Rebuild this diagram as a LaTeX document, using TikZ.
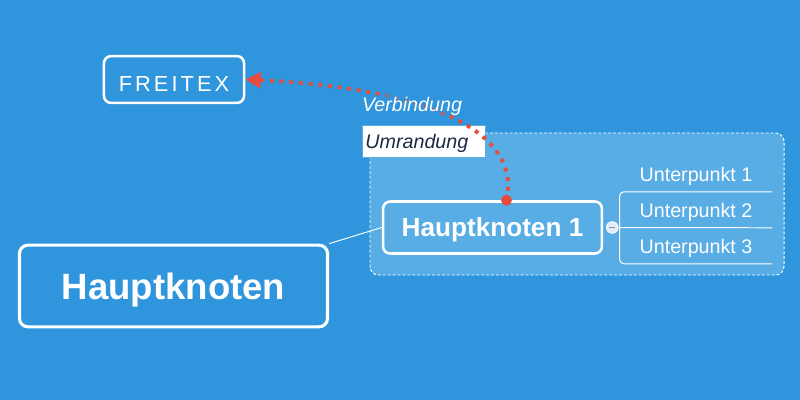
\documentclass[tikz,border=0pt]{standalone}
\usepackage{fontspec}
\setmainfont{Liberation Sans}
\usepackage{tikz}
\usetikzlibrary{calc,arrows.meta}

\definecolor{grund}{HTML}{2F95DC}
\definecolor{rahmen}{HTML}{58ADE5}
\definecolor{verbrot}{HTML}{E84C3D}
\definecolor{dunkel}{HTML}{1D2A44}
\definecolor{knopfgrau}{HTML}{E6ECF3}
\definecolor{strichgrau}{HTML}{7C8FAD}

\begin{document}
\begin{tikzpicture}[x=0.025cm,y=-0.025cm,
		kasten/.style={draw=white,rounded corners=5pt,text=white,inner sep=0pt,text depth=0pt},
		unter/.style={text=white,font=\fontsize{14}{16}\selectfont,minimum width=3.8cm,minimum height=0.85cm,inner sep=0pt,text depth=0pt},
		duenn/.style={white,line width=0.7pt}]
			\fill[grund] (0,0) rectangle (800,400);
			
			% Umrandung
			\draw[white,line width=0.7pt,dash pattern=on 2pt off 1.5pt,fill=rahmen,rounded corners=6pt] (370,133) rectangle (784,275);
			\node[draw=rahmen,fill=white,text=dunkel,font=\itshape\fontsize{14}{16}\selectfont,text width=2.9cm,align=left,inner xsep=0.09cm,minimum height=0.8cm,inner ysep=0pt,text depth=0pt](umr) at (423.5,141) {Umrandung};
			
			\node[kasten,line width=1.8pt,minimum width=3.5cm,minimum height=1.17cm,text height=17.5pt,font=\fontsize{15.5}{18}\selectfont\addfontfeature{LetterSpace=14}](freitext) at (174,79.5) {FREITEX};
			\node[kasten,line width=2.2pt,minimum width=7.7cm,minimum height=2.04cm,rounded corners=6pt,font=\bfseries\fontsize{26}{30}\selectfont](hk) at (173.5,286) {Hauptknoten};
			\node[kasten,line width=1.8pt,minimum width=5.47cm,minimum height=1.3cm,font=\bfseries\fontsize{18.6}{22}\selectfont](hk1) at (492.5,227.5) {Hauptknoten 1};
			\draw[duenn](hk.north east) -- (hk1.west);
			
			\node[unter](u1) at (696,174.5) {Unterpunkt 1};
			\node[unter](u2) at (696,210.5) {Unterpunkt 2};
			\node[unter](u3) at (696,246.5) {Unterpunkt 3};
			\node[circle,draw=white,line width=0.6pt,fill=knopfgrau,inner sep=0pt,minimum size=0.29cm](knopf) at ($(hk1.east)+(9,0)$) {};
			\draw[duenn](knopf) -- (u2.south east);
			\draw[duenn,rounded corners=3pt](u1.south east) -- (u1.south west) -- (u3.south west) -- (u3.south east);
			\draw[strichgrau,line width=0.8pt]($(knopf.center)+(-3,0)$) -- ($(knopf.center)+(3,0)$);
			
			% Verbindung
			\coordinate (anker) at ($(hk1.north)+(14,0)$);
			\draw[verbrot,line width=2.7pt,dash pattern=on 2.7pt off 4.2pt,-{Triangle[length=11pt,width=11pt]}](anker) .. controls (522,130) and (425,88) .. (freitext.east);
			\fill[verbrot](anker) circle (5.5);
			\node[text=white,font=\itshape\fontsize{14}{16}\selectfont,fill=grund,fill opacity=0.6,text opacity=1,inner sep=1pt,text depth=0pt](verb) at (412,104) {Verbindung};
		\end{tikzpicture}
\end{document}
